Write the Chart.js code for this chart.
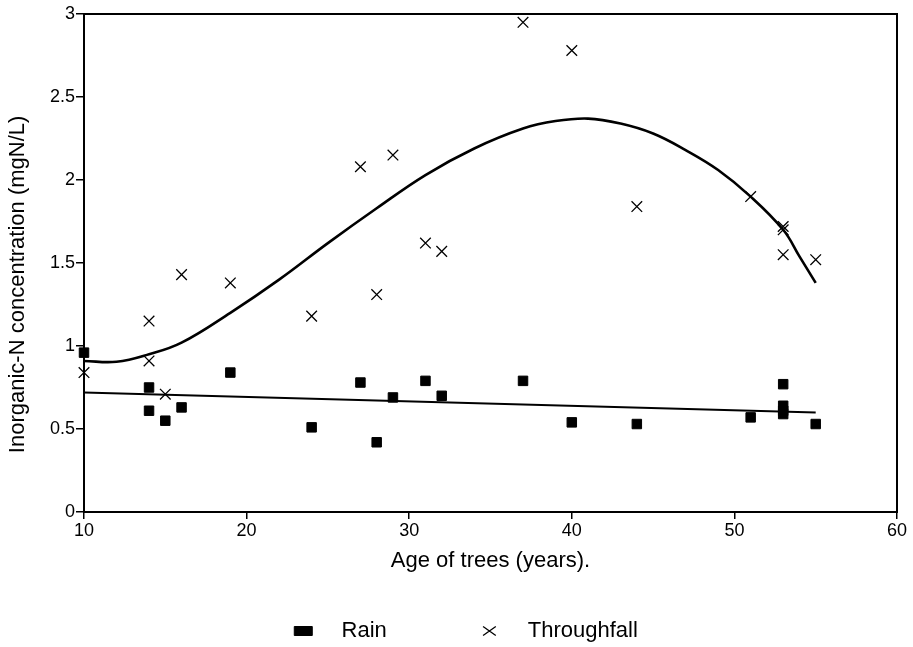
<!DOCTYPE html>
<html>
<head>
<meta charset="utf-8">
<script src="https://cdn.jsdelivr.net/npm/chart.js@4/dist/chart.umd.min.js"></script>
<style>
  html, body { margin: 0; padding: 0; background: #fff; }
  #wrap { width: 913px; height: 647px; }
</style>
</head>
<body>
<div id="wrap"><canvas id="c" width="913" height="647"></canvas></div>
<script>
// ---- data ----
const rainAge = [10, 14, 14, 15, 16, 19, 24, 27, 28, 29, 31, 32, 37, 40, 44, 51, 53, 53, 53, 53, 55];
const rainN   = [0.96, 0.75, 0.61, 0.55, 0.63, 0.84, 0.51, 0.78, 0.42, 0.69, 0.79, 0.70, 0.79, 0.54, 0.53, 0.57, 0.77, 0.64, 0.61, 0.59, 0.53];

const thruAge = [10, 14, 14, 15, 16, 19, 24, 27, 28, 29, 31, 32, 37, 40, 44, 51, 53, 53, 53, 55];
const thruN   = [0.84, 1.15, 0.91, 0.71, 1.43, 1.38, 1.18, 2.08, 1.31, 2.15, 1.62, 1.57, 2.95, 2.78, 1.84, 1.90, 1.72, 1.70, 1.55, 1.52];

const rainFitAge = [10, 55];
const rainFitN   = [0.72, 0.60];

const thruFitAge = [10, 12, 14, 16, 19, 22, 25, 28, 31, 34, 37, 39, 41, 43, 45, 47, 49, 51, 53, 54, 55];
const thruFitN   = [0.91, 0.905, 0.95, 1.02, 1.20, 1.40, 1.62, 1.83, 2.03, 2.19, 2.31, 2.355, 2.37, 2.34, 2.28, 2.18, 2.06, 1.90, 1.70, 1.54, 1.38];

const xTicks = [10, 20, 30, 40, 50, 60];
const yTicks = [0, 0.5, 1, 1.5, 2, 2.5, 3];

const xTitle = 'Age of trees (years).';
const yTitle = 'Inorganic-N concentration (mgN/L)';
const seriesNames = ['Rain', 'Throughfall'];

const pairs = (xs, ys) => xs.map((x, i) => ({ x: x, y: ys[i] }));

const FONT = "'Liberation Sans', Arial, Helvetica, sans-serif";

const frame = {
  id: 'frame',
  afterDraw(chart) {
    const a = chart.chartArea, ctx = chart.ctx;
    ctx.save();
    ctx.strokeStyle = '#000';
    ctx.lineWidth = 2;
    ctx.strokeRect(a.left, a.top, a.right - a.left, a.bottom - a.top);
    ctx.restore();
  }
};

new Chart(document.getElementById('c'), {
  type: 'scatter',
  data: {
    datasets: [
      {
        label: seriesNames[0],
        data: pairs(rainAge, rainN),
        pointStyle: 'rect',
        pointRadius: 6.7,
        pointBackgroundColor: '#000',
        pointBorderColor: '#000',
        pointBorderWidth: 1,
        borderColor: '#000',
        backgroundColor: '#000',
        clip: false
      },
      {
        label: seriesNames[1],
        data: pairs(thruAge, thruN),
        pointStyle: 'crossRot',
        pointRadius: 7.5,
        pointBorderColor: '#000',
        pointBorderWidth: 1.3,
        borderColor: '#000',
        backgroundColor: '#000',
        clip: false
      },
      {
        label: 'rainFit',
        data: pairs(rainFitAge, rainFitN),
        showLine: true,
        pointRadius: 0,
        borderColor: '#000',
        borderWidth: 2,
        fill: false
      },
      {
        label: 'thruFit',
        data: pairs(thruFitAge, thruFitN),
        showLine: true,
        pointRadius: 0,
        borderColor: '#000',
        borderWidth: 2.6,
        tension: 0.4,
        fill: false
      }
    ]
  },
  plugins: [frame],
  options: {
    responsive: false,
    animation: false,
    events: [],
    layout: { padding: { left: 0, right: 16, top: 14, bottom: -5 } },
    plugins: {
      tooltip: { enabled: false },
      legend: {
        position: 'bottom',
        fullSize: false,
        labels: {
          usePointStyle: true,
          pointStyleWidth: 18,
          boxHeight: 9,
          padding: 8,
          color: '#000',
          font: { family: FONT, size: 22 },
          filter: (item) => item.datasetIndex < 2,
          generateLabels: (chart) => {
            const items = Chart.defaults.plugins.legend.labels.generateLabels(chart);
            items.forEach((it) => {
              if (it.datasetIndex === 0) it.text = '   ' + it.text + '              ';
              if (it.datasetIndex === 1) it.text = '   ' + it.text + '        ';
            });
            return items;
          }
        }
      }
    },
    scales: {
      x: {
        type: 'linear',
        min: 10, max: 60,
        afterBuildTicks: (s) => { s.ticks = xTicks.map(v => ({ value: v })); },
        afterFit: (s) => { s.height = 100; },
        ticks: { color: '#000', font: { family: FONT, size: 18 }, padding: 1, maxRotation: 0,
                 callback: (v) => String(v) },
        grid: { drawOnChartArea: false, drawTicks: true, tickLength: 7, color: '#000', lineWidth: 1.5 },
        border: { display: true, color: '#000', width: 2 },
        title: { display: true, text: xTitle, color: '#000', font: { family: FONT, size: 22 }, padding: { top: 0, bottom: 38 } }
      },
      y: {
        type: 'linear',
        min: 0, max: 3,
        afterBuildTicks: (s) => { s.ticks = yTicks.map(v => ({ value: v })); },
        afterFit: (s) => { s.width = 84; },
        ticks: { color: '#000', font: { family: FONT, size: 18 }, padding: 1,
                 callback: (v) => String(v) },
        grid: { drawOnChartArea: false, drawTicks: true, tickLength: 8, color: '#000', lineWidth: 1.5 },
        border: { display: true, color: '#000', width: 2 },
        title: { display: true, text: yTitle + '       ', color: '#000', font: { family: FONT, size: 22 }, padding: { top: 5, bottom: 0 } }
      }
    }
  }
});
</script>
</body>
</html>
